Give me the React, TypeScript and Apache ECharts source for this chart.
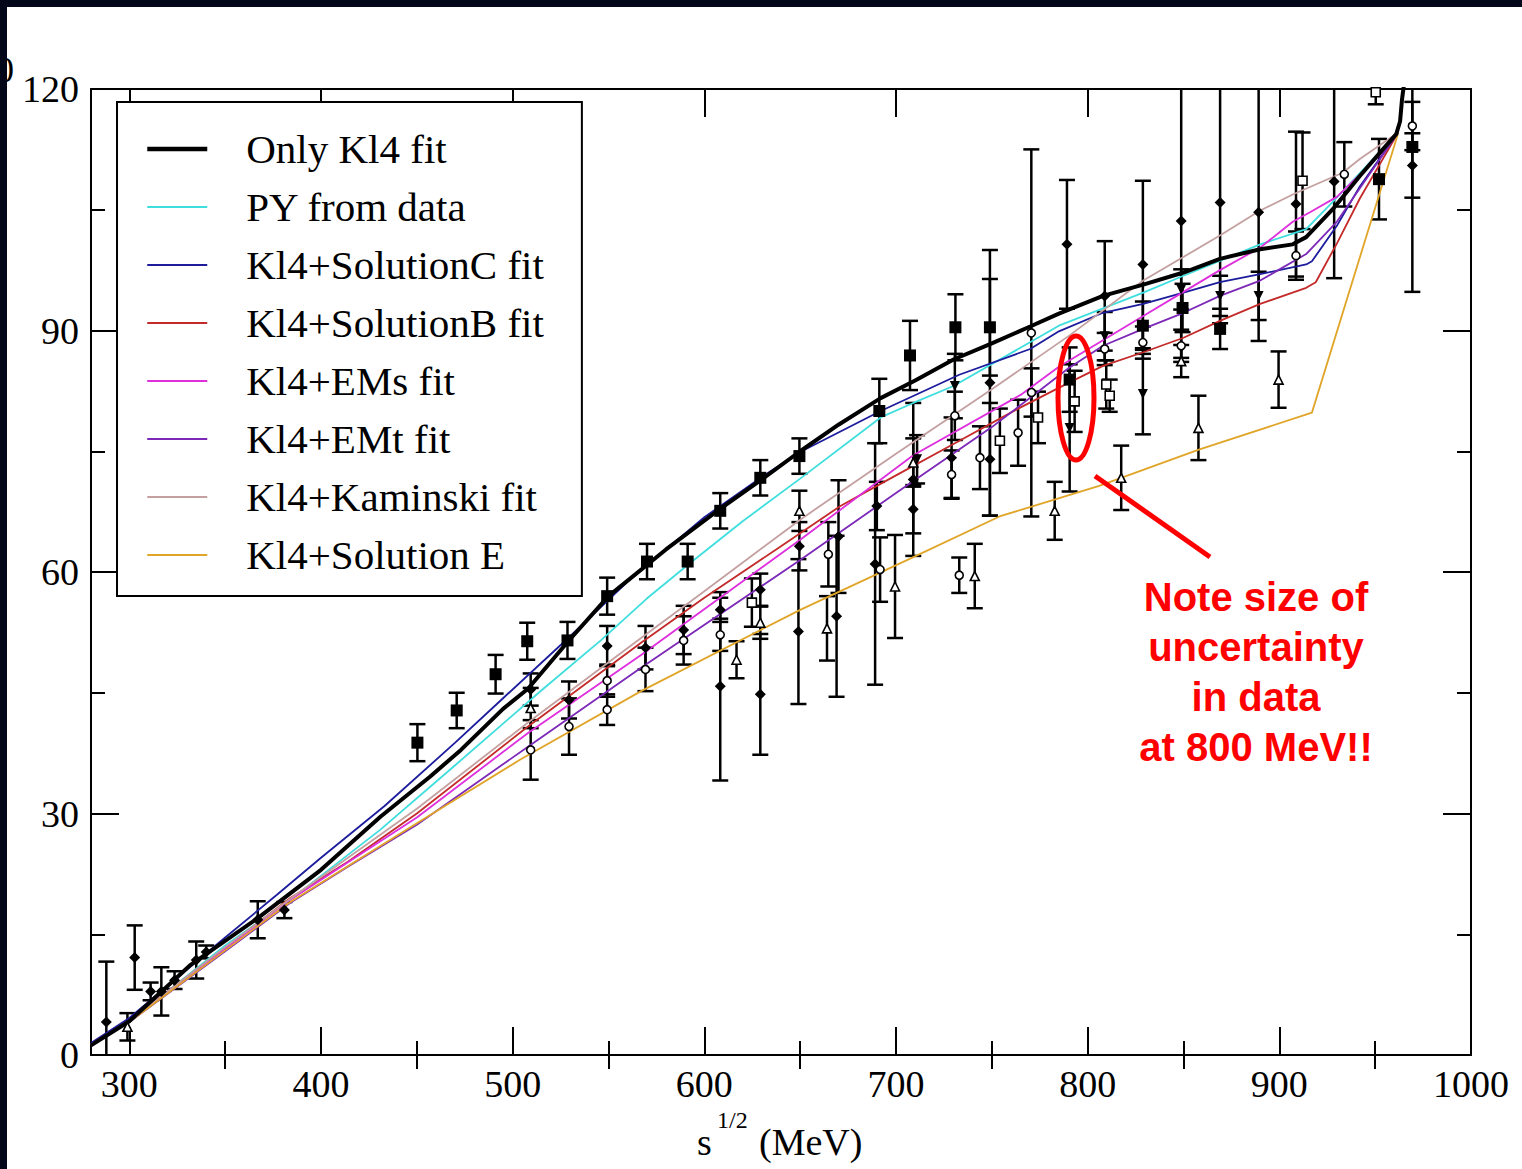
import React, { useEffect, useRef } from "react";
import * as echarts from "echarts";

// ---------- axis ticks ----------
const X_MAJOR = [300, 400, 500, 600, 700, 800, 900, 1000];
const X_MINOR = [350, 450, 550, 650, 750, 850, 950];

// ---------- curves (sqrt(s) MeV, value) ----------
const LINE_NAMES = [
  "Only Kl4 fit",
  "PY from data",
  "Kl4+SolutionC fit",
  "Kl4+SolutionB fit",
  "Kl4+EMs fit",
  "Kl4+EMt fit",
  "Kl4+Kaminski fit",
  "Kl4+Solution E",
];
const LINE_COLORS = ["#000000", "#3fdede", "#1c1c9c", "#c42a2a", "#de2ede", "#7c28b8", "#c4a0a0", "#e0a528"];

const onlyKl4 = [
  [280, 1.2], [300, 4.2], [332, 11.2], [367, 17.0], [400, 23.0], [431, 29.6], [457, 34.6], [473, 37.9],
  [495, 43.0], [508, 45.5], [529, 51.4], [550, 57.0], [580, 62.8], [608, 67.8], [630, 71.5], [650, 75.0],
  [670, 78.3], [692, 81.6], [710, 83.8], [730, 86.4], [750, 88.4], [770, 90.5], [785, 92.1], [808, 94.3],
  [829, 95.7], [850, 97.2], [869, 98.9], [890, 100.1], [907, 100.7], [914, 101.6], [928, 105.1], [942, 109.2],
  [954, 112.5], [961, 114.4], [963, 116.0], [964, 118.7], [965, 120.5],
];
const pyFromData = [
  [280, 1.3], [300, 4.1], [350, 13.6], [384, 19.3], [431, 28.0], [470, 36.0], [516, 45.5], [546, 51.5],
  [570, 56.7], [591, 60.8], [620, 66.3], [650, 71.6], [692, 79.2], [709, 81.0], [730, 83.1], [785, 90.6],
  [829, 94.7], [850, 96.8], [890, 100.7], [914, 102.6], [928, 106.0], [962, 114.6],
];
const solutionC = [
  [280, 1.5], [300, 4.6], [350, 14.6], [377, 19.9], [400, 24.5], [433, 30.9], [470, 38.8], [494, 44.1],
  [529, 51.8], [560, 58.8], [600, 66.8], [630, 71.8], [650, 74.9], [692, 80.0], [733, 84.5], [770, 87.7],
  [785, 89.9], [808, 92.2], [829, 93.3], [850, 94.7], [869, 96.0], [890, 97.0], [914, 98.2], [917, 98.6],
  [930, 103.0], [942, 107.9], [962, 114.6],
];
const solutionB = [
  [280, 1.3], [300, 4.3], [350, 13.3], [384, 19.5], [414, 24.0], [450, 30.0], [508, 40.8], [567, 51.2],
  [600, 56.8], [640, 63.2], [671, 68.2], [700, 72.0], [730, 75.9], [763, 80.2], [790, 83.5], [808, 85.6],
  [829, 87.3], [850, 89.1], [869, 91.2], [890, 93.3], [914, 95.3], [919, 96.0], [930, 100.8], [942, 106.4],
  [962, 114.6],
];
const emS = [
  [280, 1.3], [300, 4.2], [350, 13.2], [384, 19.3], [450, 29.5], [508, 40.0], [567, 49.7], [650, 64.0],
  [709, 74.5], [765, 82.0], [785, 85.5], [808, 88.8], [829, 91.8], [850, 94.8], [869, 97.5], [890, 100.3],
  [907, 103.5], [916, 104.7], [930, 106.6], [952, 111.7], [962, 114.6],
];
const emT = [
  [280, 1.3], [300, 4.1], [350, 12.9], [384, 18.9], [414, 23.4], [450, 28.6], [508, 38.3], [567, 48.1],
  [650, 61.5], [700, 69.8], [750, 78.0], [790, 85.3], [808, 88.1], [829, 90.2], [850, 92.2], [869, 94.3],
  [890, 96.2], [914, 99.5], [930, 103.5], [962, 114.6],
];
const kaminski = [
  [280, 1.3], [300, 4.2], [350, 13.4], [384, 19.4], [450, 30.6], [508, 41.3], [567, 51.8], [600, 57.6],
  [650, 66.5], [700, 74.7], [750, 82.7], [790, 89.3], [829, 96.2], [869, 101.8], [890, 104.9], [907, 106.9],
  [933, 109.6], [942, 111.3], [962, 114.6],
];
const solutionE = [
  [280, 1.2], [300, 4.1], [350, 13.0], [384, 19.0], [450, 28.8], [504, 36.7], [567, 45.2], [650, 55.3],
  [706, 61.5], [754, 66.9], [806, 70.7], [858, 75.2], [917, 79.8], [962, 114.5],
];
const LINE_DATA = [onlyKl4, pyFromData, solutionC, solutionB, emS, emT, kaminski, solutionE];

// ---------- data points [sqrt(s), value, error] ----------
const filledSquares = [
  [450.3, 38.8, 2.3], [470.8, 42.8, 2.2], [491.1, 47.3, 2.4], [507.6, 51.4, 2.3], [528.6, 51.5, 2.3],
  [549.3, 57.0, 2.3], [570.1, 61.3, 2.2], [591.3, 61.3, 2.2], [608.3, 67.6, 2.2], [629.2, 71.7, 2.2],
  [649.6, 74.4, 2.2], [691.3, 80.0, 4.0], [707.3, 86.9, 4.3], [731.0, 90.4, 4.1], [749.0, 90.4, 6.0],
  [790.6, 83.9, 4.0], [828.8, 90.6, 3.0], [849.5, 92.8, 3.0], [869.1, 90.2, 2.5], [952.0, 108.8, 5.0],
  [969.4, 112.8, 18.0],
];
const filledDiamonds = [
  [288.0, 4.1, 7.5], [302.8, 12.1, 4.0], [311.1, 7.9, 1.1], [316.7, 7.9, 3.0], [323.6, 9.3, 1.1],
  [334.9, 11.8, 2.3], [340.1, 12.8, 0.8], [367.0, 16.8, 2.3], [380.9, 18.0, 1.0], [509.4, 45.4, 2.0],
  [529.4, 44.1, 2.3], [549.3, 50.8, 2.5], [569.3, 50.6, 2.7], [589.2, 52.8, 3.0], [608.3, 45.8, 11.7],
  [608.3, 55.3, 1.5], [629.2, 44.8, 7.5], [629.2, 57.8, 2.0], [649.1, 52.6, 9.0], [649.6, 63.2, 3.0],
  [669.0, 54.5, 10.0], [670.0, 64.4, 7.0], [689.1, 61.0, 15.0], [690.0, 68.2, 3.0], [709.0, 71.5, 9.5],
  [709.0, 67.8, 3.0], [729.0, 74.2, 5.0], [749.0, 83.5, 16.5], [749.0, 74.0, 7.0], [789.2, 100.7, 8.0],
  [808.9, 94.3, 6.8], [828.8, 98.2, 10.4], [848.8, 103.6, 17.0], [869.1, 105.9, 15.0], [889.2, 104.7, 16.0],
  [908.7, 105.7, 9.0], [928.6, 108.5, 12.0], [969.4, 110.5, 4.0],
];
const filledTrianglesDown = [
  [790.6, 77.9, 7.9], [828.8, 82.1, 5.0], [848.8, 95.1, 2.5], [869.1, 94.3, 2.5], [889.2, 94.3, 3.0],
  [808.9, 89.3, 3.0], [730.7, 83.1, 4.0], [711.0, 74.0, 3.0],
];
const openTriangles = [
  [299.0, 3.5, 1.7], [509.4, 43.1, 2.5], [616.8, 49.1, 2.3], [629.2, 53.7, 2.0], [664.0, 53.0, 4.0],
  [699.5, 58.2, 6.4], [741.1, 59.5, 4.0], [782.8, 67.6, 3.6], [817.5, 71.7, 4.0], [857.8, 77.9, 4.0],
  [899.6, 83.9, 3.5], [649.6, 67.6, 2.5], [709.0, 73.6, 3.0], [848.8, 86.2, 2.0],
];
const openCircles = [
  [509.4, 37.9, 3.7], [529.4, 40.8, 3.5], [549.3, 42.9, 1.9], [569.3, 47.9, 2.7], [589.2, 51.5, 3.0],
  [608.3, 52.2, 2.0], [664.7, 62.2, 4.0], [691.7, 60.3, 4.0], [733.0, 59.6, 2.2], [743.8, 74.2, 3.9],
  [763.7, 77.3, 4.1], [770.6, 89.7, 22.8], [770.7, 82.3, 3.0], [808.9, 87.7, 2.0], [828.8, 88.5, 2.0],
  [848.8, 88.1, 2.0], [908.7, 99.3, 3.0], [933.9, 109.4, 4.0], [969.4, 115.4, 3.0], [729.0, 72.1, 3.0],
  [730.7, 79.4, 3.0], [549.3, 46.5, 2.0],
];
const openSquares = [
  [624.8, 56.2, 3.0], [754.2, 76.3, 4.0], [774.1, 79.2, 3.2], [793.2, 81.2, 3.8], [811.5, 81.9, 2.0],
  [912.1, 108.6, 6.0], [950.3, 119.6, 1.5], [809.7, 83.3, 3.0],
];

const Y_MAX = 120;
const SERIF = "'Liberation Serif', 'Times New Roman', serif";

export default function App() {
  const ref = useRef<HTMLDivElement>(null);

  useEffect(() => {
    if (!ref.current) return;
    const chart = echarts.init(ref.current, null, { renderer: "svg" });

    const allPoints = [
      ...filledSquares, ...filledDiamonds, ...filledTrianglesDown,
      ...openTriangles, ...openCircles, ...openSquares,
    ];

    const tickStyle = { color: "#000", width: 2 };
    const axisLineStyle = { show: true, onZero: false, lineStyle: { color: "#000", width: 2 } };

    const xBase = (position: string, major: boolean, labels: boolean, line: boolean) => ({
      type: "value",
      position,
      min: 280,
      max: 1000,
      axisLine: line ? axisLineStyle : { show: false },
      axisTick: {
        show: true,
        inside: true,
        length: major ? 28 : 14,
        customValues: major ? X_MAJOR : X_MINOR,
        lineStyle: tickStyle,
      },
      axisLabel: labels
        ? {
            show: true,
            customValues: X_MAJOR,
            fontFamily: SERIF,
            fontSize: 38,
            color: "#000",
            margin: 10,
            formatter: (v: number) => String(v),
          }
        : { show: false },
      splitLine: { show: false },
    });

    const yBase = (position: string, labels: boolean) => ({
      type: "value",
      position,
      min: 0,
      max: Y_MAX,
      interval: 30,
      axisLine: axisLineStyle,
      axisTick: { show: true, inside: true, length: 28, lineStyle: tickStyle },
      minorTick: { show: true, splitNumber: 2, length: 14, lineStyle: tickStyle },
      axisLabel: labels
        ? { show: true, fontFamily: SERIF, fontSize: 38, color: "#000", margin: 12, formatter: (v: number) => String(v) }
        : { show: false },
      splitLine: { show: false },
      minorSplitLine: { show: false },
    });

    const errorBarSeries = {
      type: "custom",
      name: "errorbars",
      data: allPoints,
      encode: { x: 0, y: 1 },
      z: 2,
      renderItem: (params: any, api: any) => {
        const x = api.value(0);
        const y = api.value(1);
        const e = api.value(2);
        const hiV = Math.min(y + e, Y_MAX);
        const loV = Math.max(y - e, 0);
        const top = api.coord([x, hiV]);
        const bot = api.coord([x, loV]);
        const w = 8;
        const st = { stroke: "#000", lineWidth: 2.5 };
        const children: any[] = [
          { type: "line", shape: { x1: top[0], y1: top[1], x2: bot[0], y2: bot[1] }, style: st },
        ];
        if (y + e <= Y_MAX)
          children.push({ type: "line", shape: { x1: top[0] - w, y1: top[1], x2: top[0] + w, y2: top[1] }, style: st });
        if (y - e >= 0)
          children.push({ type: "line", shape: { x1: bot[0] - w, y1: bot[1], x2: bot[0] + w, y2: bot[1] }, style: st });
        return { type: "group", children };
      },
    };

    const markerSeries = (name: string, data: number[][], symbol: string, size: number, open: boolean, rotate = 0) => ({
      type: "scatter",
      name,
      data: data.map((d) => [d[0], d[1]]),
      symbol,
      symbolSize: size,
      symbolRotate: rotate,
      z: 6,
      itemStyle: open
        ? { color: "#fff", borderColor: "#000", borderWidth: 1.6, opacity: 1 }
        : { color: "#000", opacity: 1 },
    });

    const lineSeries = LINE_NAMES.map((name, i) => ({
      type: "line",
      name,
      data: LINE_DATA[i],
      symbol: "none",
      showSymbol: false,
      clip: true,
      z: i === 0 ? 5 : 4,
      lineStyle: { color: LINE_COLORS[i], width: i === 0 ? 4 : 1.8 },
      itemStyle: { color: LINE_COLORS[i] },
    }));
    // draw the black curve last so it sits on top
    const orderedLines = [...lineSeries.slice(1), lineSeries[0]];

    const legendData = LINE_NAMES.map((name, i) => ({
      name,
      lineStyle: { color: LINE_COLORS[i], width: i === 0 ? 4.5 : 2.2 },
    }));

    const option: any = {
      animation: false,
      backgroundColor: "#ffffff",
      grid: { left: 91, right: 51, top: 89, bottom: 114, containLabel: false },
      xAxis: [
        xBase("bottom", true, true, true),
        xBase("bottom", false, false, false),
        xBase("top", true, false, true),
        xBase("top", false, false, false),
      ],
      yAxis: [yBase("left", true), yBase("right", false)],
      legend: {
        data: legendData,
        orient: "vertical",
        left: 117,
        top: 102,
        padding: [26, 38, 20, 28],
        itemWidth: 60,
        itemHeight: 1,
        itemGap: 16,
        backgroundColor: "#fff",
        borderColor: "#000",
        borderWidth: 2,
        borderRadius: 0,
        selectedMode: false,
        textStyle: {
          fontFamily: SERIF,
          fontSize: 41,
          lineHeight: 42,
          color: "#000",
          padding: [0, 0, 0, 34],
        },
        z: 10,
      },
      series: [
        errorBarSeries,
        ...orderedLines,
        markerSeries("squares", filledSquares, "rect", 12, false),
        markerSeries("diamonds", filledDiamonds, "diamond", 11, false),
        markerSeries("trianglesDown", filledTrianglesDown, "triangle", 10, false, 180),
        markerSeries("openTriangles", openTriangles, "triangle", 9, true),
        markerSeries("openCircles", openCircles, "circle", 8, true),
        markerSeries("openSquares", openSquares, "rect", 9, true),
      ],
      graphic: [
        // partially hidden glyph at the top-left corner
        {
          type: "text",
          z: 50,
          style: { x: -4, y: 52, text: "0", font: `36px ${SERIF}`, fill: "#000" },
        },
        // dark frame strips
        { type: "rect", z: 60, shape: { x: 0, y: 0, width: 1522, height: 7 }, style: { fill: "#040719" } },
        { type: "rect", z: 60, shape: { x: 0, y: 0, width: 7, height: 1169 }, style: { fill: "#040719" } },
        // axis title s^{1/2} (MeV)
        {
          type: "text",
          z: 50,
          style: { x: 697, y: 1123, text: "s", font: `38px ${SERIF}`, fill: "#000" },
        },
        {
          type: "text",
          z: 50,
          style: { x: 717, y: 1108, text: "1/2", font: `24px ${SERIF}`, fill: "#000" },
        },
        {
          type: "text",
          z: 50,
          style: { x: 759, y: 1123, text: "(MeV)", font: `38px ${SERIF}`, fill: "#000" },
        },
        // annotation
        {
          type: "ellipse",
          z: 50,
          shape: { cx: 1076, cy: 398, rx: 18, ry: 62 },
          style: { fill: "none", stroke: "#ff0000", lineWidth: 5 },
        },
        {
          type: "line",
          z: 50,
          shape: { x1: 1095, y1: 476, x2: 1210, y2: 557 },
          style: { stroke: "#ff0000", lineWidth: 5 },
        },
        {
          type: "text",
          z: 50,
          style: {
            x: 1256,
            y: 572,
            text: "Note size of\nuncertainty\nin data\nat 800 MeV!!",
            font: "bold 40px 'Liberation Sans', Arial, sans-serif",
            fill: "#ff0000",
            align: "center",
            textAlign: "center",
            verticalAlign: "top",
            lineHeight: 50,
          },
        },
      ],
    };

    chart.setOption(option);
    return () => chart.dispose();
  }, []);

  return (
    <div
      ref={ref}
      style={{ position: "absolute", left: 0, top: 0, width: 1522, height: 1169, background: "#fff" }}
    />
  );
}
